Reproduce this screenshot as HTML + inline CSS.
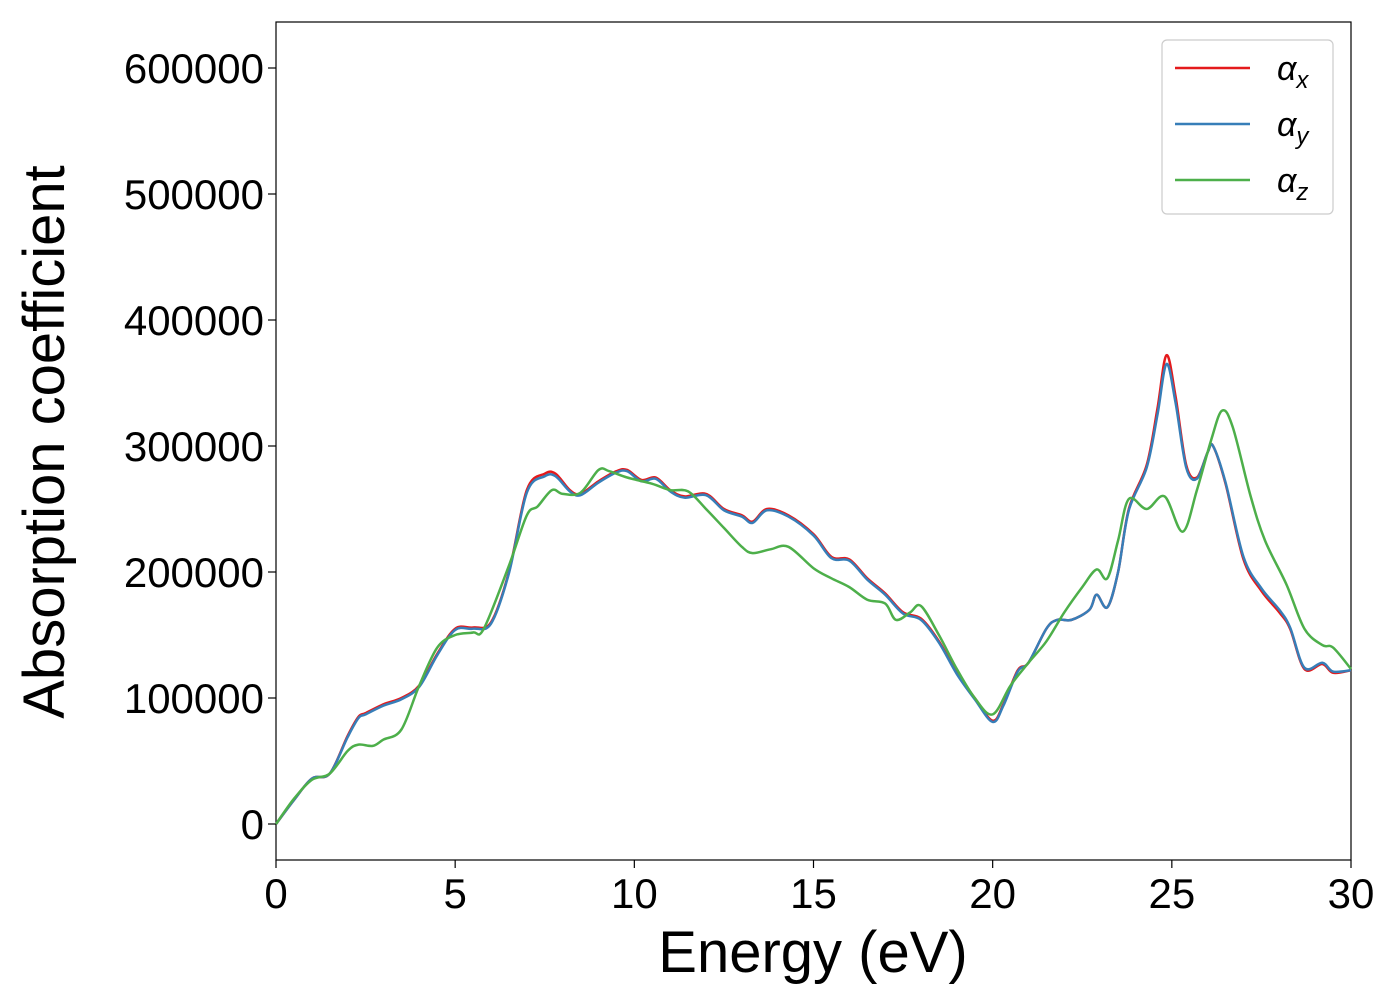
<!DOCTYPE html>
<html><head><meta charset="utf-8"><style>
body{margin:0;background:#fff;width:1400px;height:1000px;overflow:hidden}
text{font-family:"Liberation Sans","DejaVu Sans",sans-serif}
</style></head><body>
<svg id="chart" width="1400" height="1000" xmlns="http://www.w3.org/2000/svg">
<rect x="276" y="22" width="1075" height="838" fill="#fff" stroke="#000" stroke-width="1.2"/>
<g id="xticks"></g><g id="yticks"></g><g id="series"></g>
<text x="813" y="972" font-size="58" text-anchor="middle">Energy (eV)</text>
<text transform="translate(64,442) rotate(-90)" font-size="58" text-anchor="middle">Absorption coefficient</text>
<g>
<rect x="1162" y="40" width="171" height="174" rx="5" fill="#fff" stroke="#ccc" stroke-width="1.2"/>
<line x1="1175" x2="1250" y1="68" y2="68" stroke="#e41a1c" stroke-width="2.5"/>
<text x="1277" y="80" font-size="34" font-style="italic">α<tspan font-size="24" dy="8">x</tspan></text>
<line x1="1175" x2="1250" y1="124" y2="124" stroke="#377eb8" stroke-width="2.5"/>
<text x="1277" y="136" font-size="34" font-style="italic">α<tspan font-size="24" dy="8">y</tspan></text>
<line x1="1175" x2="1250" y1="180" y2="180" stroke="#4daf4a" stroke-width="2.5"/>
<text x="1277" y="192" font-size="34" font-style="italic">α<tspan font-size="24" dy="8">z</tspan></text>
</g>
</svg>
<script>
const xTicks=[0,5,10,15,20,25,30];
const yTicks=[0,100000,200000,300000,400000,500000,600000];
const exE=[0,0.5,1,1.5,2,2.3,2.5,3,3.5,4,4.5,5,5.5,6,6.5,7,7.5,7.8,8.2,8.5,9,9.5,9.8,10.2,10.6,11,11.4,12,12.5,13,13.3,13.7,14.3,15,15.5,16,16.5,17,17.5,18,18.5,19,19.5,20,20.3,20.7,21,21.5,21.8,22.2,22.7,22.9,23.2,23.5,23.8,24.3,24.6,24.85,25.1,25.4,25.7,26,26.15,26.5,27,27.5,28,28.3,28.7,29.2,29.5,30];
const alphaX=[0,19000,36000,40000,70000,85000,88000,95000,100000,110000,135000,155000,156000,160000,200000,265000,278000,278000,265000,262000,272000,280000,281000,273000,275000,265000,260000,262000,250000,245000,240000,250000,245000,230000,212000,210000,195000,183000,168000,163000,145000,120000,100000,82000,95000,122000,128000,155000,162000,162000,170000,182000,172000,200000,250000,285000,330000,372000,340000,285000,275000,295000,300000,270000,210000,185000,168000,155000,123000,127000,120000,122000];
const alphaY=[0,19000,36000,40000,69000,84000,87000,94000,99000,109000,134000,154000,155000,159000,199000,263000,276000,276000,264000,261000,271000,279000,280000,272000,274000,264000,259000,261000,249000,244000,239000,249000,244000,229000,211000,209000,194000,182000,167000,162000,144000,119000,99000,81000,94000,121000,128000,155000,162000,162000,170000,182000,172000,200000,249000,283000,325000,365000,335000,283000,274000,295000,300000,271000,212000,187000,170000,156000,124000,128000,121000,122000];
const ezE=[0,0.5,1,1.5,2,2.3,2.7,3,3.5,4,4.5,5,5.5,5.8,6.5,7,7.3,7.7,8,8.5,9,9.3,9.8,10.5,11,11.5,12,12.5,13,13.3,13.8,14.3,15,15.5,16,16.5,17,17.3,17.7,18,18.5,19,19.5,20,20.5,21,21.5,22,22.5,22.9,23.2,23.5,23.8,24.3,24.8,25.3,25.7,26.1,26.4,26.7,27.2,27.6,28.2,28.7,29.2,29.5,30];
const alphaZ=[0,20000,35000,40000,58000,63000,62000,67000,75000,110000,140000,150000,152000,155000,205000,245000,252000,265000,262000,263000,281000,280000,275000,270000,265000,264000,250000,235000,220000,215000,218000,220000,203000,195000,188000,178000,175000,162000,168000,173000,150000,123000,100000,87000,110000,128000,145000,168000,188000,202000,195000,225000,258000,250000,260000,232000,265000,305000,328000,315000,260000,225000,190000,155000,142000,140000,123000];
const NS="http://www.w3.org/2000/svg";
const X=v=>276+v*(1351-276)/30;
const Y=v=>824-v*(824-68)/600000;
const xg=document.getElementById('xticks'),yg=document.getElementById('yticks'),sg=document.getElementById('series');
xTicks.forEach(t=>{
 const l=document.createElementNS(NS,'line');
 
 
 l.setAttribute('x1',X(t));l.setAttribute('x2',X(t));l.setAttribute('y1',860);l.setAttribute('y2',868);l.setAttribute('stroke','#000');l.setAttribute('stroke-width','1.2');xg.appendChild(l);
 const tx=document.createElementNS(NS,'text');
 
 
 tx.setAttribute('x',X(t));tx.setAttribute('y',908);tx.setAttribute('font-size','42');tx.setAttribute('text-anchor','middle');tx.textContent=t;xg.appendChild(tx);
});
yTicks.forEach(t=>{
 const l=document.createElementNS(NS,'line');
 
 
 l.setAttribute('x1',268);l.setAttribute('x2',276);l.setAttribute('y1',Y(t));l.setAttribute('y2',Y(t));l.setAttribute('stroke','#000');l.setAttribute('stroke-width','1.2');yg.appendChild(l);
 const tx=document.createElementNS(NS,'text');
 
 
 tx.setAttribute('x',264);tx.setAttribute('y',Y(t)+15);tx.setAttribute('font-size','42');tx.setAttribute('text-anchor','end');tx.textContent=t;yg.appendChild(tx);
});
function pathD(xs,ys){
 const p=xs.map((x,i)=>[X(x),Y(ys[i])]);
 let d='M'+p[0][0]+','+p[0][1];
 for(let i=0;i<p.length-1;i++){
  const p0=p[i-1]||p[i],p1=p[i],p2=p[i+1],p3=p[i+2]||p2;
  const c1=[p1[0]+(p2[0]-p0[0])/6,p1[1]+(p2[1]-p0[1])/6];
  const c2=[p2[0]-(p3[0]-p1[0])/6,p2[1]-(p3[1]-p1[1])/6];
  d+=`C${c1[0]},${c1[1]} ${c2[0]},${c2[1]} ${p2[0]},${p2[1]}`;
 }
 return d;
}
[[exE,alphaX,'#e41a1c','series-alpha-x'],[exE,alphaY,'#377eb8','series-alpha-y'],[ezE,alphaZ,'#4daf4a','series-alpha-z']].forEach(s=>{
 const p=document.createElementNS(NS,'path');
 
 
 p.setAttribute('d',pathD(s[0],s[1]));p.setAttribute('fill','none');p.setAttribute('stroke',s[2]);p.setAttribute('stroke-width','2.5');sg.appendChild(p);
});
</script>
</body></html>
